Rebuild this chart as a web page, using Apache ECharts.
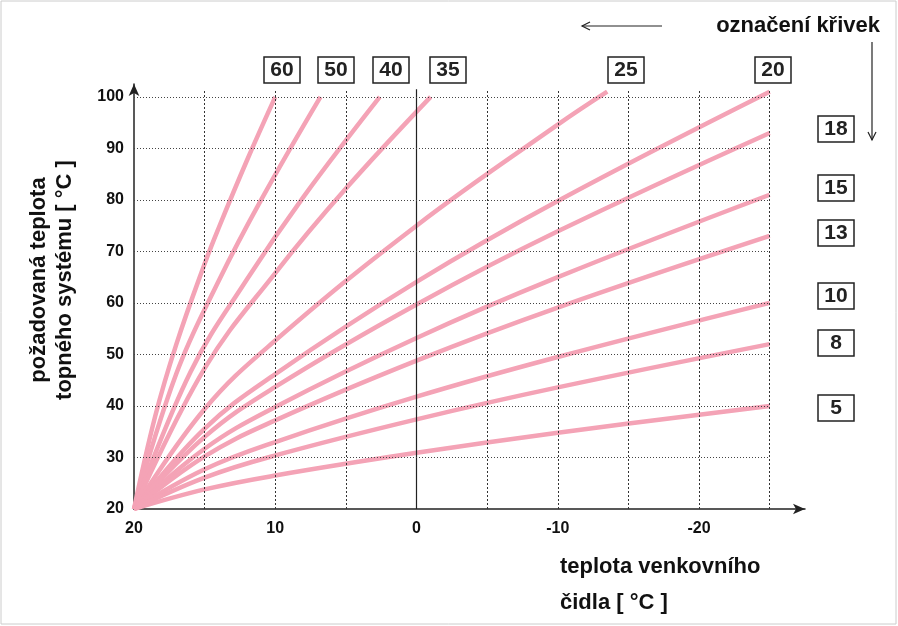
<!DOCTYPE html><html><head><meta charset="utf-8">
<script src="https://cdn.jsdelivr.net/npm/echarts@6/dist/echarts.min.js"></script>
<style>html,body{margin:0;padding:0;background:#fff}#c{width:898px;height:626px}</style></head><body><div id="c"></div>
<script>
const curveNames=['60','50','40','35','25','20','18','15','13','10','8','5'];
const c60=[[20,20],[18.5,38],[17,52],[15,67.6],[14,74.6],[12,87.7],[10,100]];
const c50=[[20,20],[17,46.3],[14,64.3],[11,80],[6.8,100]];
const c40=[[20,20],[16,46.6],[12,64.6],[8,80.6],[2.6,100]];
const c35=[[20,20],[15,47.3],[10,65.8],[5,82.2],[-1,100]];
const c25=[[20,20],[15,39.4],[10,52.7],[0,75],[-10,94.6],[-13.5,101]];
const c20=[[20,20],[15,35.6],[10,46.2],[0,64.1],[-10,79.8],[-25,101]];
const c18=[[20,20],[15,34],[10,43.7],[0,59.7],[-10,73.9],[-25,93]];
const c15=[[20,20],[15,31.7],[10,39.8],[0,53.2],[-10,65],[-25,81]];
const c13=[[20,20],[15,30.2],[10,37.2],[0,48.8],[-10,59.1],[-25,73]];
const c10=[[20,20],[15,27.7],[10,33],[0,41.8],[-10,49.5],[-25,60]];
const c8=[[20,20],[15,26.1],[10,30.4],[0,37.4],[-10,43.6],[-25,52]];
const c5=[[20,20],[15,23.8],[10,26.5],[0,30.9],[-10,34.8],[-25,40]];
const curves=[c60,c50,c40,c35,c25,c20,c18,c15,c13,c10,c8,c5];
const xTickLabels=[20,10,0,-10,-20];
const yTickLabels=[20,30,40,50,60,70,80,90,100];
const xGrid=[15,10,5,-5,-10,-15,-20,-25];
const yGrid=[30,40,50,60,70,80,90,100];

const ch=echarts.init(document.getElementById('c'));
const F='Liberation Sans';
const series=curves.map((d,i)=>({type:'line',name:curveNames[i],data:d,smooth:0.4,symbol:'none',
 lineStyle:{color:'#f4a3b6',width:4.5},z:3}));
series.push({type:'line',data:[],markLine:{silent:true,symbol:'none',label:{show:false},
 data:[...xGrid.map(v=>[{coord:[v,20],lineStyle:{type:[2,2],color:'#333',width:1}},{coord:[v,101.5]}]),
  [{coord:[0,20],lineStyle:{type:'solid',color:'#222',width:1.2}},{coord:[0,101.5]}],
  ...yGrid.map(v=>[{coord:[20,v],lineStyle:{type:[1,2],color:'#444',width:1}},{coord:[-25,v]}])]}});
const box=(x,y,t)=>({type:'group',children:[
 {type:'rect',shape:{x:x,y:y,width:36,height:26},style:{fill:'#fff',stroke:'#222',lineWidth:1.5}},
 {type:'text',x:x+18,y:y+13,style:{text:t,font:'bold 21px '+F,fill:'#222',align:'center',verticalAlign:'middle'}}]});
const topBoxes=[['60',264],['50',318],['40',373],['35',430],['25',608],['20',755]];
const rightBoxes=[['18',116],['15',175],['13',220],['10',283],['8',330],['5',395]];
ch.setOption({animation:false,
 grid:{left:134,right:93,top:84,bottom:117},
 xAxis:{type:'value',inverse:true,min:-27.5,max:20,interval:2.5,splitLine:{show:false},
  axisTick:{show:false},axisLine:{onZero:false,lineStyle:{color:'#222',width:1.5},symbol:['none','arrow'],symbolSize:[8,12]},
  axisLabel:{formatter:v=>xTickLabels.includes(v)?String(v):'',color:'#111',fontWeight:'bold',fontSize:16,fontFamily:F,margin:12}},
 yAxis:{type:'value',min:20,max:102.5,interval:2.5,splitLine:{show:false},axisTick:{show:false},
  axisLine:{show:true,onZero:false,lineStyle:{color:'#222',width:1.5},symbol:['none','arrow'],symbolSize:[8,12]},
  axisLabel:{formatter:v=>yTickLabels.includes(v)?String(v):'',color:'#111',fontWeight:'bold',fontSize:16,fontFamily:F,margin:10}},
 series:series,
 graphic:[
  {type:'rect',shape:{x:1,y:1,width:895,height:623},style:{fill:'none',stroke:'#ccc',lineWidth:1}},
  {type:'text',x:880,y:26,style:{text:'označení křivek',font:'bold 22px '+F,fill:'#111',align:'right',verticalAlign:'middle'}},
  {type:'line',shape:{x1:582,y1:26,x2:662,y2:26},style:{stroke:'#222',lineWidth:1.2}},
  {type:'polyline',shape:{points:[[590,22],[582,26],[590,30]]},style:{stroke:'#222',fill:'none',lineWidth:1.2}},
  {type:'line',shape:{x1:872,y1:42,x2:872,y2:140},style:{stroke:'#222',lineWidth:1.2}},
  {type:'polyline',shape:{points:[[868,132],[872,140],[876,132]]},style:{stroke:'#222',fill:'none',lineWidth:1.2}},
  {type:'text',x:52,y:280,rotation:Math.PI/2,style:{text:'požadovaná teplota\ntopného systému [ °C ]',font:'bold 22px '+F,fill:'#111',align:'center',verticalAlign:'middle',lineHeight:26}},
  {type:'text',x:560,y:585,style:{text:'teplota venkovního\nčidla [ °C ]',font:'bold 22px '+F,fill:'#111',align:'left',verticalAlign:'middle',lineHeight:36}},
  ...topBoxes.map(b=>box(b[1],57,b[0])),
  ...rightBoxes.map(b=>box(818,b[1],b[0]))
 ]});
</script></body></html>
